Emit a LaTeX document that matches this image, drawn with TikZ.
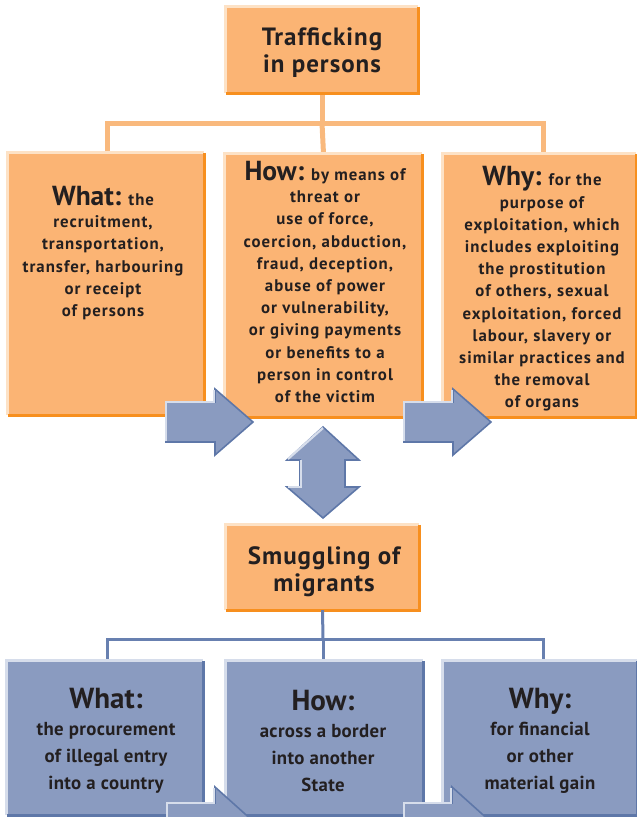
\documentclass[tikz,border=0pt]{standalone}
\usepackage{fontspec}
\setmainfont{PT Sans}
\newfontfamily\mytrackA{PT Sans}[LetterSpace=6]
\newfontfamily\mytrackB{PT Sans}[LetterSpace=2]
\newfontfamily\mytrackT{PT Sans}[LetterSpace=4]
\newfontfamily\mynotrack{PT Sans}
\definecolor{ofill}{RGB}{251,180,116}
\definecolor{odark}{RGB}{247,143,30}
\definecolor{olight}{RGB}{253,226,198}
\definecolor{oline}{RGB}{249,185,125}
\definecolor{bfill}{RGB}{138,155,192}
\definecolor{bdark}{RGB}{94,119,168}
\definecolor{blight}{RGB}{214,221,235}
\definecolor{bline}{RGB}{104,128,176}
\definecolor{ink}{RGB}{35,31,32}
\tikzset{
  obox/.style={fill=ofill, inner sep=0pt},
  bbox/.style={fill=bfill, inner sep=0pt},
  txt/.style={text=ink, align=center, inner sep=0pt, font=\mytrackA\bfseries\fontsize{16.8}{22.2}\selectfont},
  ltxt/.style={text=ink, align=center, inner sep=0pt, font=\mytrackB\bfseries\fontsize{18.8}{27}\selectfont},
  ttxt/.style={text=ink, align=center, inner sep=0pt, font=\mytrackT\bfseries\fontsize{25}{27}\selectfont},
  arrowbody/.style={fill=bfill, draw=bdark, line width=1.6pt, line join=miter},
  arrowhi/.style={draw=blight, line width=2.2pt},
  oconn/.style={draw=oline, line width=5pt},
  bconn/.style={draw=bline, line width=3pt},
}
\newcommand{\myuphd}[1]{{\mynotrack\bfseries\fontsize{27.5}{27}\selectfont #1}}
\newcommand{\mylowhd}[1]{{\mynotrack\bfseries\fontsize{29}{30}\selectfont #1}}
\newcommand{\myedges}[3]{%
  \draw[#2, line width=3pt] (#1.south west) -- (#1.north west) -- (#1.north east);
  \draw[#3, line width=3pt] (#1.north east) -- (#1.south east) -- (#1.south west);}
\begin{document}
\begin{tikzpicture}[x=1pt,y=-1pt]
\useasboundingbox (0,0) rectangle (637,817);
% top box
\node[obox, minimum width=192pt, minimum height=86pt] (traf) at (322,50) {};
\node[ttxt] (traft) at (322,53) {Trafficking\\in persons};
% connector hub
\coordinate (hub) at (322,123);
% upper boxes
\node[obox, minimum width=196pt, minimum height=262pt] (what) at (106,284) {};
\node[obox, minimum width=197pt, minimum height=263pt] (how) at (323.5,285.5) {};
\node[obox, minimum width=193pt, minimum height=263pt] (why) at (539.5,285.5) {};
\draw[oconn] (traf.south) -- (hub);
\draw[oconn] (what.north -| 107,0) -- (107,123) -- (543,123) -- (why.north -| 543,0);
\draw[oconn] (hub) -- (how.north);
\myedges{traf}{olight}{odark}
\myedges{what}{olight}{odark}
\myedges{how}{olight}{odark}
\myedges{why}{olight}{odark}
\node[txt] (whatt) at (103,253) {\myuphd{What:} the\\recruitment,\\transportation,\\transfer, harbouring\\or receipt\\of persons};
\node[txt] (howt) at (325,282) {\myuphd{How:} by means of\\threat or\\use of force,\\coercion, abduction,\\fraud, deception,\\abuse of power\\or vulnerability,\\or giving payments\\or benefits to a\\person in control\\of the victim};
\node[txt] (whyt) at (542,289) {\myuphd{Why:} for the\\purpose of\\exploitation, which\\includes exploiting\\the prostitution\\of others, sexual\\exploitation, forced\\labour, slavery or\\similar practices and\\the removal\\of organs};
% upper arrows
\foreach \dx in {0,238} {
  \begin{scope}[xshift=\dx pt]
  \fill[arrowbody] (166,402) -- (215,402) -- (215,389) -- (253,422) -- (215,455) -- (215,442) -- (166,442) -- cycle;
  \draw[arrowhi] (166,441) -- (166,402) -- (214,402) -- (214,390);
  \end{scope}
}
% double arrow
\fill[arrowbody] (323,427) -- (359,460) -- (345,460) -- (345,487) -- (359,487) -- (323,518) -- (287,487) -- (300,487) -- (300,460) -- (287,460) -- cycle;
\draw[arrowhi] (288,459) -- (323,428);
\draw[arrowhi] (301,460) -- (301,487) -- (288,487);
% smuggling box
\node[obox, minimum width=193pt, minimum height=85pt] (smug) at (322.5,567.5) {};
\myedges{smug}{olight}{odark}
\node[ttxt] (smugt) at (324,572) {Smuggling of\\migrants};
% lower boxes
\node[bbox, minimum width=196pt, minimum height=154pt] (lwhat) at (105,738) {};
\node[bbox, minimum width=197pt, minimum height=154pt] (lhow) at (324.5,738) {};
\node[bbox, minimum width=194pt, minimum height=154pt] (lwhy) at (540,738) {};
\coordinate (lhub) at (323,639);
\draw[bconn] (smug.south) -- (lhub);
\draw[bconn] (lwhat.north -| 107,0) -- (107,639) -- (543,639) -- (lwhy.north -| 543,0);
\draw[bconn] (lhub) -- (lhow.north -| lhub);
\myedges{lwhat}{blight}{bdark}
\myedges{lhow}{blight}{bdark}
\myedges{lwhy}{blight}{bdark}
\node[ltxt] (lwhatt) at (106,741) {\mylowhd{What:}\\the procurement\\of illegal entry\\into a country};
\node[ltxt] (lhowt) at (323,741) {\mylowhd{How:}\\across a border\\into another\\State};
\node[ltxt] (lwhyt) at (540,741) {\mylowhd{Why:}\\for financial\\or other\\material gain};
% lower arrows
\foreach \dx in {0,237} {
  \begin{scope}[xshift=\dx pt]
  \fill[arrowbody] (167,803) -- (215,803) -- (215,787) -- (254,822) -- (215,857) -- (215,843) -- (167,843) -- cycle;
  \draw[arrowhi] (167,842) -- (167,803) -- (214,803) -- (214,788);
  \end{scope}
}
\end{tikzpicture}
\end{document}
